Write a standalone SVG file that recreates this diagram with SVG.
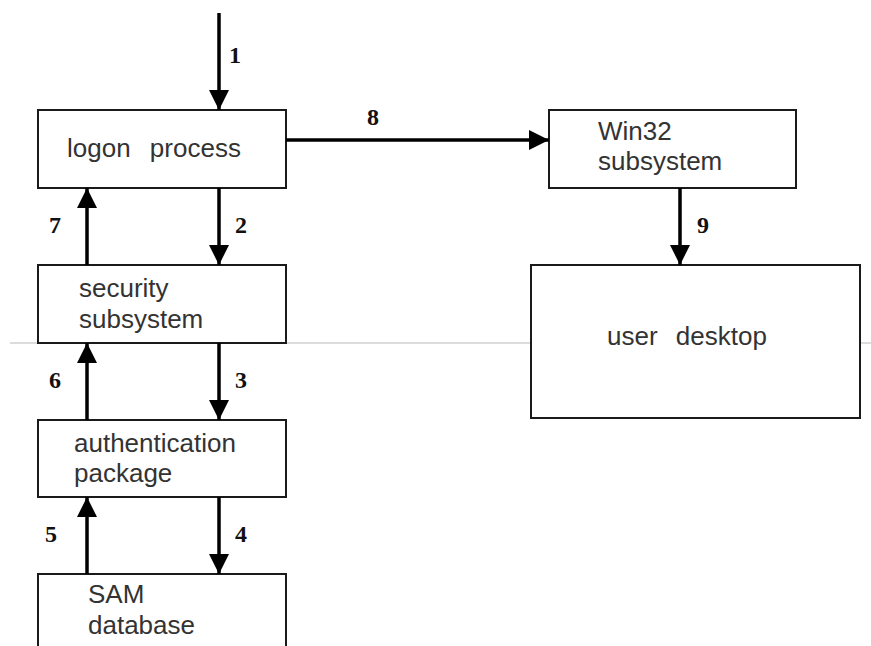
<svg xmlns="http://www.w3.org/2000/svg" width="871" height="646" viewBox="0 0 871 646">
<style>
.box{fill:#fff;stroke:#1a1a1a;stroke-width:2}
.t{font-family:"Liberation Sans",Arial,sans-serif;font-size:26px;fill:#333}
.n{font-family:"Liberation Serif","Times New Roman",serif;font-size:24px;font-weight:bold;fill:#111;text-anchor:middle}
.c{stroke:#000;stroke-width:3.5;fill:none;marker-end:url(#ah)}
</style>
<defs>
<marker id="ah" markerUnits="userSpaceOnUse" markerWidth="22" markerHeight="22" viewBox="0 0 22 22" refX="20" refY="11" orient="auto">
<path d="M0,1 L20,11 L0,21 Z" fill="#000"/>
</marker>
</defs>
<rect width="871" height="646" fill="#fff"/>
<line x1="10" y1="343" x2="871" y2="343" stroke="#d0d0d0" stroke-width="1.5"/>
<g id="logon"><rect class="box" x="38" y="110" width="248" height="78"/><text class="t" x="67" y="157" word-spacing="12">logon process</text></g>
<g id="win32"><rect class="box" x="549" y="110" width="247" height="78"/><text class="t" x="598" y="140">Win32</text><text class="t" x="598" y="170">subsystem</text></g>
<g id="security"><rect class="box" x="38" y="265" width="248" height="78"/><text class="t" x="79" y="297">security</text><text class="t" x="79" y="328">subsystem</text></g>
<g id="desktop"><rect class="box" x="531" y="265" width="329" height="153"/><text class="t" x="607" y="345" word-spacing="11">user desktop</text></g>
<g id="auth"><rect class="box" x="38" y="420" width="248" height="77"/><text class="t" x="74" y="452">authentication</text><text class="t" x="74" y="482">package</text></g>
<g id="sam"><rect class="box" x="38" y="574" width="248" height="90"/><text class="t" x="88" y="603">SAM</text><text class="t" x="88" y="634">database</text></g>
<g id="connectors">
<line class="c" x1="219" y1="13" x2="219" y2="110"/>
<line class="c" x1="286" y1="140" x2="549" y2="140"/>
<line class="c" x1="219" y1="188" x2="219" y2="265"/>
<line class="c" x1="87" y1="265" x2="87" y2="188"/>
<line class="c" x1="219" y1="343" x2="219" y2="420"/>
<line class="c" x1="87" y1="420" x2="87" y2="343"/>
<line class="c" x1="219" y1="497" x2="219" y2="574"/>
<line class="c" x1="87" y1="574" x2="87" y2="497"/>
<line class="c" x1="680" y1="188" x2="680" y2="265"/>
<text class="n" x="235" y="63">1</text>
<text class="n" x="373" y="125">8</text>
<text class="n" x="55" y="233">7</text>
<text class="n" x="241" y="233">2</text>
<text class="n" x="55" y="388">6</text>
<text class="n" x="241" y="388">3</text>
<text class="n" x="51" y="542">5</text>
<text class="n" x="241" y="542">4</text>
<text class="n" x="703" y="233">9</text>
</g>
</svg>
